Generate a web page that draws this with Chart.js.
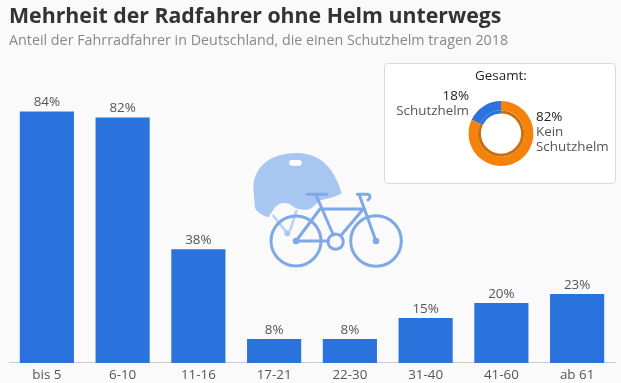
<!DOCTYPE html>
<html>
<head>
<meta charset="utf-8">
<script src="https://cdn.jsdelivr.net/npm/chart.js@4"></script>
<style>
    html, body { margin: 0; padding: 0; background: #fafafa; }
    #page { position: relative; width: 621px; height: 383px; overflow: hidden; }
    #barWrap { position: absolute; left: 0; top: 0; width: 621px; height: 383px; }
    #box { position: absolute; left: 384px; top: 63px; width: 230px; height: 119px; background: #fff; border: 1px solid #d9d9d9; border-radius: 4px; }
    #pieWrap { position: absolute; left: 0; top: 0; width: 230px; height: 119px; }
    #icon { position: absolute; left: 240px; top: 145px; }
</style>
</head>
<body>
<div id="page">
    <div id="barWrap"><canvas id="barChart"></canvas></div>
    <svg id="icon" width="170" height="130" viewBox="0 0 510 390">
        <!-- helmet -->
        <path fill="#a8c6f2" d="M40 130 C40 70 85 25 170 24 C245 24 285 75 305 145 C290 155 265 160 245 165 C230 170 222 192 200 194 C175 196 165 190 150 178 C130 170 112 175 100 195 L85 217 C65 212 50 200 45 190 Z"/>
        <rect x="148" y="45" width="37" height="17" rx="7" fill="#fff"/>
        <g stroke="#bcd3f4" stroke-width="8" fill="none">
            <path d="M98 210 L140 262"/>
            <path d="M170 195 L150 258"/>
        </g>
        <circle cx="142" cy="265" r="9" fill="#a8c6f2"/>
        <!-- bike -->
        <g stroke="#7ea8e6" stroke-width="9" fill="none" stroke-linecap="round" stroke-linejoin="round">
            <circle cx="168" cy="288" r="75"/>
            <circle cx="408" cy="288" r="76"/>
            <circle cx="287" cy="290" r="23"/>
            <path d="M168 288 L264 288"/>
            <path d="M168 288 L240 192 L370 192 L302 272"/>
            <path d="M228 150 L280 270"/>
            <path d="M358 150 L408 288"/>
            <path d="M202 148 L260 148"/>
            <path d="M352 148 L382 148 C392 148 392 160 384 165"/>
        </g>
        <circle cx="168" cy="288" r="10" fill="#7ea8e6"/>
        <circle cx="408" cy="288" r="10" fill="#7ea8e6"/>
    </svg>
    <div id="box"><div id="pieWrap"><canvas id="pieChart"></canvas></div></div>
</div>
<script>
const ageGroups = ['bis 5', '6-10', '11-16', '17-21', '22-30', '31-40', '41-60', 'ab 61'];
const helmetShare = [84, 82, 38, 8, 8, 15, 20, 23];

const totalLabels = ['Schutzhelm', 'Kein Schutzhelm'];
const totalValues = [18, 82];

const fontName = '"Open Sans", sans-serif';

// percent labels above the bars
const barLabelPlugin = {
    id: 'barLabels',
    afterDatasetsDraw: function (chart) {
        const ctx = chart.ctx;
        ctx.save();
        ctx.font = '13.4px ' + fontName;
        ctx.fillStyle = '#555';
        ctx.textAlign = 'center';
        ctx.textBaseline = 'middle';
        chart.getDatasetMeta(0).data.forEach((bar, i) => {
            ctx.fillText(helmetShare[i] + '%', bar.x, bar.y - 9);
        });
        ctx.restore();
    }
};

// labels left and right of the doughnut
const pieLabelPlugin = {
    id: 'pieLabels',
    afterDraw: function (chart) {
        const ctx = chart.ctx;
        const cx = chart.getDatasetMeta(0).data[0].x;
        const cy = chart.getDatasetMeta(0).data[0].y;
        ctx.save();
        ctx.font = '13.4px ' + fontName;
        ctx.textBaseline = 'middle';
        ctx.textAlign = 'right';
        ctx.fillStyle = '#222';
        ctx.fillText(totalValues[0] + '%', cx - 32, cy - 37);
        ctx.fillStyle = '#555';
        ctx.fillText(totalLabels[0], cx - 32, cy - 22);
        ctx.textAlign = 'left';
        ctx.fillStyle = '#222';
        ctx.fillText(totalValues[1] + '%', cx + 35, cy - 16);
        ctx.fillStyle = '#555';
        ctx.fillText('Kein', cx + 35, cy - 1);
        ctx.fillText('Schutzhelm', cx + 35, cy + 14);
        ctx.restore();
    }
};

new Chart(document.getElementById('barChart').getContext('2d'), {
    type: 'bar',
    data: {
        labels: ageGroups,
        datasets: [{
            data: helmetShare,
            backgroundColor: '#2a73dc',
            barPercentage: 0.715,
            categoryPercentage: 1
        }]
    },
    options: {
        responsive: true,
        maintainAspectRatio: false,
        animation: false,
        layout: { padding: { left: 9, right: 6, top: 2, bottom: -4 } },
        plugins: {
            legend: { display: false },
            tooltip: { enabled: false },
            title: {
                display: true,
                text: 'Mehrheit der Radfahrer ohne Helm unterwegs',
                align: 'start',
                color: '#333',
                font: { family: fontName, size: 21.3, weight: 'bold' },
                padding: { top: 2, bottom: 3 }
            },
            subtitle: {
                display: true,
                text: 'Anteil der Fahrradfahrer in Deutschland, die einen Schutzhelm tragen 2018',
                align: 'start',
                color: '#888',
                font: { family: fontName, size: 14.3 },
                padding: { top: 0, bottom: 13 }
            }
        },
        scales: {
            x: {
                grid: { display: false, drawTicks: false },
                border: { color: '#ccc' },
                ticks: { color: '#555', font: { family: fontName, size: 13.4 }, padding: 4, maxRotation: 0 }
            },
            y: { display: false, min: 0, max: 100.3 }
        }
    },
    plugins: [barLabelPlugin]
});

new Chart(document.getElementById('pieChart').getContext('2d'), {
    type: 'doughnut',
    data: {
        labels: totalLabels,
        datasets: [
            { data: totalValues, backgroundColor: ['#2a73dc', '#f5820a'], borderWidth: 0, weight: 3 },
            { data: totalValues, backgroundColor: ['#2a73dc', '#c96f10'], borderWidth: 0, weight: 1 }
        ]
    },
    options: {
        responsive: true,
        maintainAspectRatio: false,
        animation: false,
        cutout: '62%',
        rotation: -64.8,
        layout: { padding: { left: 2, right: 0, top: 0, bottom: 17 } },
        plugins: {
            legend: { display: false },
            tooltip: { enabled: false },
            title: {
                display: true,
                text: 'Gesamt:',
                color: '#222',
                font: { family: fontName, size: 13.4, weight: 'normal' },
                padding: { top: 4, bottom: 17 }
            }
        }
    },
    plugins: [pieLabelPlugin]
});
</script>
</body>
</html>
